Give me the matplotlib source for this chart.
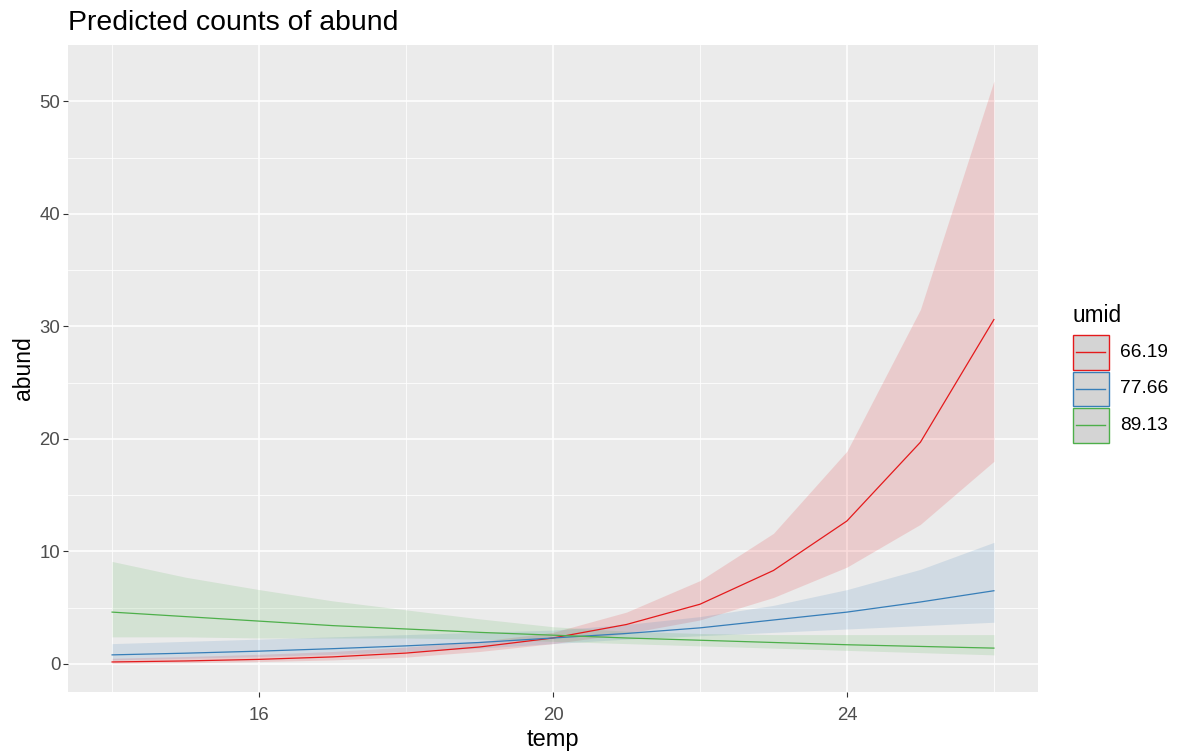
import matplotlib.pyplot as plt
from matplotlib.patches import Rectangle
from matplotlib.lines import Line2D
import numpy as np

plt.rcParams['font.family'] = ['Liberation Sans', 'DejaVu Sans']

# predicted counts per temperature for three humidity levels
temp = [14, 15, 16, 17, 18, 19, 20, 21, 22, 23, 24, 25, 26]
umid_levels = ['66.19', '77.66', '89.13']

pred_66 = [0.17, 0.26, 0.40, 0.62, 0.96, 1.5, 2.3, 3.5, 5.3, 8.3, 12.7, 19.7, 30.6]
low_66 = [0.05, 0.1, 0.2, 0.35, 0.6, 1.1, 1.8, 2.7, 3.9, 5.9, 8.6, 12.4, 18.0]
high_66 = [0.5, 0.65, 0.85, 1.1, 1.5, 2.0, 2.8, 4.6, 7.4, 11.6, 18.9, 31.5, 51.8]

pred_77 = [0.8, 0.95, 1.13, 1.35, 1.6, 1.9, 2.3, 2.7, 3.2, 3.9, 4.6, 5.5, 6.5]
low_77 = [0.35, 0.5, 0.65, 0.85, 1.1, 1.4, 1.8, 2.2, 2.5, 2.8, 3.1, 3.4, 3.7]
high_77 = [1.8, 2.0, 2.2, 2.4, 2.6, 2.8, 3.0, 3.5, 4.2, 5.2, 6.6, 8.4, 10.8]

pred_89 = [4.6, 4.2, 3.8, 3.4, 3.1, 2.8, 2.55, 2.3, 2.1, 1.9, 1.7, 1.55, 1.4]
low_89 = [2.4, 2.4, 2.3, 2.3, 2.3, 2.2, 2.0, 1.8, 1.6, 1.4, 1.2, 1.0, 0.8]
high_89 = [9.1, 7.7, 6.6, 5.6, 4.8, 4.0, 3.3, 2.9, 2.7, 2.6, 2.6, 2.6, 2.6]

colors = ['#E41A1C', '#377EB8', '#4DAF4A']
series = [(pred_66, low_66, high_66), (pred_77, low_77, high_77), (pred_89, low_89, high_89)]

W, H = 1179, 753
fig = plt.figure(figsize=(W / 100, H / 100), dpi=100)
ax = fig.add_axes([68 / W, 1 - 692 / H, (1038 - 68) / W, (692 - 45) / H])
ax.set_facecolor('#EBEBEB')

for (p, lo, hi), c in zip(series, colors):
    ax.fill_between(temp, lo, hi, color=c, alpha=0.15, linewidth=0)
for (p, lo, hi), c in zip(series, colors):
    ax.plot(temp, p, color=c, linewidth=0.9)

ax.set_xlim(13.4, 26.6)
ax.set_ylim(-2.5, 55.0)
ax.set_xticks([16, 20, 24])
ax.set_yticks([0, 10, 20, 30, 40, 50])
ax.set_xticks([14, 18, 22, 26], minor=True)
ax.set_yticks([5, 15, 25, 35, 45], minor=True)
ax.grid(which='major', color='white', linewidth=1.1)
ax.grid(which='minor', color='white', linewidth=0.55)
ax.set_axisbelow(True)
for s in ax.spines.values():
    s.set_visible(False)
ax.tick_params(which='major', length=3.5, color='#333333', labelsize=13.4, labelcolor='#4D4D4D', pad=2)
ax.tick_params(axis='x', which='major', pad=7)
ax.tick_params(which='minor', length=0)
ax.set_xlabel('temp', fontsize=17, labelpad=4)
ax.set_ylabel('abund', fontsize=16.5, labelpad=3)

fig.text(68 / W, 1 - 30 / H, 'Predicted counts of abund', fontsize=20.4, va='baseline', ha='left')

# legend
fig.text(1072 / W, 1 - 322 / H, 'umid', fontsize=16.3, va='baseline', ha='left')
box_tops = [335, 371.5, 408]
for top, c, lab in zip(box_tops, colors, umid_levels):
    fig.add_artist(Rectangle((1073 / W, 1 - (top + 34.5) / H), 35.5 / W, 34.5 / H,
                             transform=fig.transFigure, facecolor='#D4D4D4',
                             edgecolor=c, linewidth=1.0, alpha=1))
    ymid = 1 - (top + 17.25) / H
    fig.add_artist(Line2D([1076 / W, 1105 / W], [ymid, ymid], transform=fig.transFigure,
                          color=c, linewidth=1.0))
    fig.text(1120 / W, ymid, lab, fontsize=13.8, va='center', ha='left')

fig.savefig('out.png', dpi=100)
